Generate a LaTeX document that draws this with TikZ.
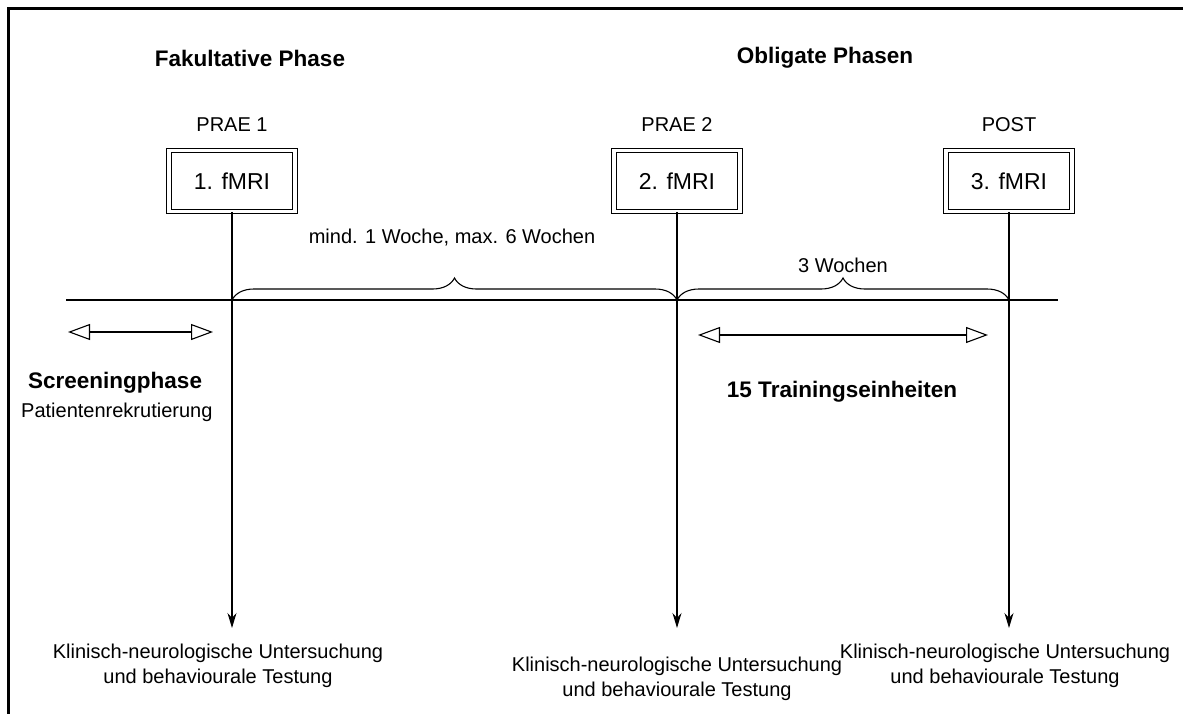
\documentclass[tikz,border=0pt]{standalone}
\usepackage{fontspec}
\setmainfont{Liberation Sans}
\usepackage{tikz}
\usetikzlibrary{arrows.meta, decorations.pathreplacing, positioning}

\begin{document}
\begin{tikzpicture}[x=1pt, y=-1pt,
				scan/.style={rectangle, draw=black, double, double distance=3.5pt, line width=1pt, minimum width=126pt, minimum height=61pt, font=\fontsize{23}{27}\selectfont},
				head/.style={font=\bfseries\fontsize{22.5}{26}\selectfont},
				flow/.style={-{Stealth[length=15pt, width=9pt]}, line width=1.1pt},
				span/.style={{Triangle[open, length=22pt, width=16pt]}-{Triangle[open, length=22pt, width=16pt]}, line width=1.1pt},
				weeks/.style={decorate, decoration={brace, amplitude=22pt}, line width=1.1pt}]
					\tikzstyle{every node}=[inner sep=0pt, align=center, text=black, font=\fontsize{20}{25}\selectfont]
					\useasboundingbox (0,0) rectangle (1183,714);
					\draw[line width=3pt] (8,714) -- (8,9) -- (1183,9);
					\node[head] (fak) at (250,58) {Fakultative Phase};
					\node[head] (obl) at (825,58) {Obligate Phasen};
					\node (prae1) at (232,125) {PRAE 1};
					\node (prae2) at (677,125) {PRAE 2};
					\node (post) at (1009,125) {POST};
					\node[scan] (mri1) at (232,181) {1. fMRI};
					\node[scan] (mri2) at (677,181) {2. fMRI};
					\node[scan] (mri3) at (1009,181) {3. fMRI};
					\coordinate (t0) at (66,300);
					\coordinate (t1) at (1058,300);
					\draw[line width=1.1pt] (t0) -- (t1);
					\coordinate (x1) at (mri1.south |- t0);
					\coordinate (x2) at (mri2.south |- t0);
					\coordinate (x3) at (mri3.south |- t0);
					\draw[flow] (mri1.south) -- (mri1.south |- 0,628);
					\draw[flow] (mri2.south) -- (mri2.south |- 0,628);
					\draw[flow] (mri3.south) -- (mri3.south |- 0,628);
					\draw[weeks] (x1) -- (x2);
					\draw[weeks] (x2) -- (x3);
					\node (gap) at (452,238) {mind. 1 Woche, max. 6 Wochen};
					\node (drei) at (843,265) {3 Wochen};
					\coordinate (s0) at (68,332);
					\coordinate (s1) at (213,332);
					\coordinate (s2) at (698,335);
					\coordinate (s3) at (988,335);
					\draw[span] (s0) -- (s1);
					\draw[span] (s2) -- (s3);
					\node[head, anchor=west] (scr) at (28,383) {Screeningphase};
					\node[anchor=west] (pat) at (21,412) {Patientenrekrutierung};
					\node[head] (train) at (842,392) {15 Trainingseinheiten};
					\node (unt1) at (218,666) {Klinisch-neurologische Untersuchung\\und behaviourale Testung};
					\node (unt2) at (677,679) {Klinisch-neurologische Untersuchung\\und behaviourale Testung};
					\node (unt3) at (1005,666) {Klinisch-neurologische Untersuchung\\und behaviourale Testung};
				\end{tikzpicture}
\end{document}
